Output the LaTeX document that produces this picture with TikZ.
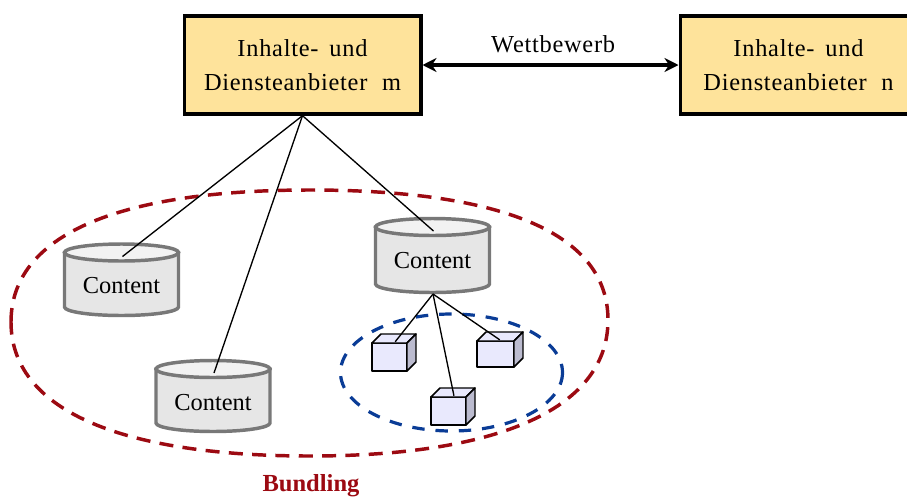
\documentclass[tikz,border=0pt]{standalone}
\usepackage{fontspec}
\setmainfont{Liberation Serif}
\usetikzlibrary{arrows.meta}
\definecolor{boxfill}{HTML}{FEE39B}
\definecolor{cylgray}{HTML}{787878}
\definecolor{cylbody}{HTML}{E6E6E6}
\definecolor{cyltop}{HTML}{F2F2F2}
\definecolor{bundlered}{HTML}{9C0A12}
\definecolor{innerblue}{HTML}{0A3C96}
\definecolor{cubefront}{HTML}{E9E9FD}
\definecolor{cubeside}{HTML}{BBBBCF}
\definecolor{cubetop}{HTML}{E9E9FD}
\newcommand{\spaced}{\addfontfeature{LetterSpace=3}}
\tikzset{
  x=0.75pt,y=-0.75pt,
  provider/.style={draw=black,fill=boxfill,line width=2.5pt,minimum width=177.5pt,minimum height=73.5pt,inner sep=0pt,align=center,font=\fontsize{18.3pt}{25.5pt}\selectfont\spaced},
  link/.style={draw=black,line width=1pt},
  cyllabel/.style={font=\fontsize{18.3pt}{22pt}\selectfont,inner sep=0pt},
  cylline/.style={draw=cylgray,line width=2.6pt},
  cubeline/.style={draw=black,line width=1.1pt,line join=round},
}
% \cylshape{name}{centre x}{top ellipse y}{side bottom y}
\newcommand{\cylshape}[4]{%
  \draw[cylline,fill=cylbody] (#2-57,#3) -- (#2-57,#4) arc[start angle=180,end angle=0,x radius=57,y radius=8.5] -- (#2+57,#3) -- cycle;
  \draw[cylline,fill=cyltop] (#2,#3) ellipse[x radius=57,y radius=8.5];
  \node[cyllabel] (#1) at (#2,#3+33.5) {Content};
  \coordinate (#1top) at (#2+1,#3+4);
  \coordinate (#1bot) at (#2+0.5,#4+10);
}
\newcommand{\cubeshape}[5]{% name, x0, y0, x1, y1 of front face
  \draw[cubeline,fill=cubefront] (#2,#3) rectangle (#4,#5);
  \draw[cubeline,fill=cubetop] (#2,#3) -- (#2+9,#3-9) -- (#4+9,#3-9) -- (#4,#3) -- cycle;
  \draw[cubeline,fill=cubeside] (#4,#3) -- (#4+9,#3-9) -- (#4+9,#5-9) -- (#4,#5) -- cycle;
  \node[inner sep=0pt,minimum size=0pt] (#1) at (#2+23,#3-1) {};
}
\begin{document}
\begin{tikzpicture}
\useasboundingbox (0,0) rectangle (907,497);
% ellipses
\draw[bundlered,line width=2.6pt,dash pattern=on 10.5pt off 7pt]
  (11,322) .. controls (11,236) and (116,190) .. (310,190)
  .. controls (504,190) and (608,234) .. (608,320)
  .. controls (608,406) and (504,456) .. (310,456)
  .. controls (116,456) and (11,408) .. (11,322) -- cycle;
\node[font=\fontsize{18.4pt}{22pt}\selectfont\bfseries,text=bundlered,inner sep=0pt] (bundling) at (311,485.5) {Bundling};
% providers
\node[provider] (m) at (302.5,65) {Inhalte-\hspace{0.45em}und\\Diensteanbieter\hspace{0.6em}m};
\begin{scope}
\clip (0,0) rectangle (907,497);
\node[provider] (n) at (798.5,65) {Inhalte-\hspace{0.45em}und\\Diensteanbieter\hspace{0.6em}n};
\end{scope}
% competition
\draw[{Stealth[length=10.5pt,width=10.5pt]}-{Stealth[length=10.5pt,width=10.5pt]},line width=3.5pt] (m.east) -- node[above=7pt,xshift=2pt,font=\fontsize{18.3pt}{22pt}\selectfont\spaced,inner sep=0pt] (wett) {Wettbewerb} (n.west);
% cylinders
\cylshape{ca}{121.5}{252.5}{307}
\cylshape{cb}{213}{369}{423}
\cylshape{cc}{432.5}{227}{284}
\draw[innerblue,line width=2.4pt,dash pattern=on 9.3pt off 8.2pt] (451.5,372.5) ellipse[x radius=111,y radius=58.5];
\cubeshape{cua}{372}{343}{407}{371}
\cubeshape{cub}{477}{341}{514}{367}
\cubeshape{cuc}{431}{397}{466}{425}
% connectors
\draw[link] (m.south) -- (catop);
\draw[link] (m.south) -- (cbtop);
\draw[link] (m.south) -- (cctop);
\draw[link] (ccbot) -- (cua);
\draw[link] (ccbot) -- (cub);
\draw[link] (ccbot) -- (cuc);
\end{tikzpicture}
\end{document}
